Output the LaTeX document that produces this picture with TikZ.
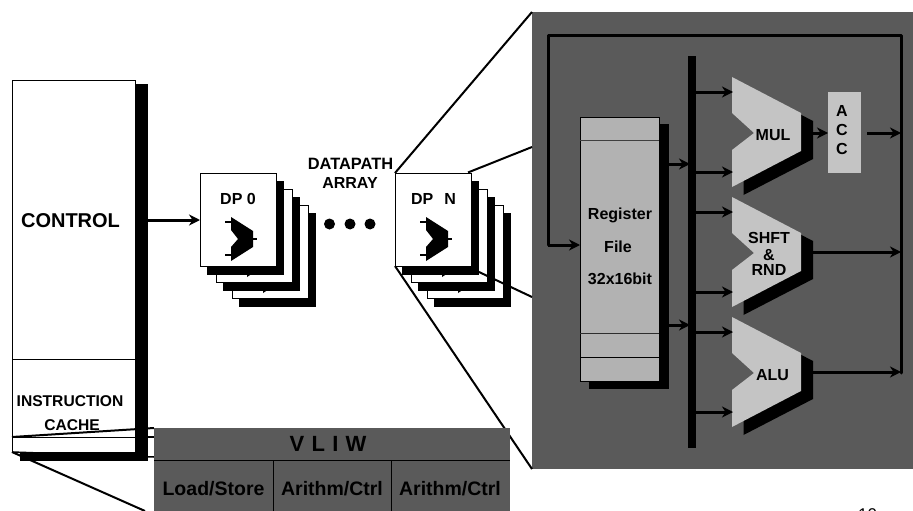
\documentclass[tikz,border=0pt]{standalone}
\usepackage{fontspec}
\setmainfont{Liberation Sans}
\usetikzlibrary{arrows.meta}
\definecolor{panelgray}{HTML}{5A5A5A}
\definecolor{muxgray}{HTML}{C4C4C4}
\definecolor{reggray}{HTML}{B2B2B2}
\newcommand{\rectnode}[6]{%
  \pgfmathsetmacro\rcx{(#2+#4)/2}\pgfmathsetmacro\rcy{(#3+#5)/2}%
  \pgfmathsetmacro\rw{#4-#2}\pgfmathsetmacro\rh{#5-#3}%
  \node[#6,minimum width=\rw pt,minimum height=\rh pt] (#1) at (\rcx,\rcy) {};}
\tikzset{
  x=1pt,y=-1pt,
  box/.style={rectangle,inner sep=0pt,outer sep=0pt},
  whitebox/.style={box,draw=black,line width=0.8pt,fill=white},
  shadowbox/.style={box,fill=black},
  lbl/.style={inner sep=0pt,outer sep=0pt,font=\bfseries\fontsize{16}{16}\selectfont,text=black},
  biglbl/.style={lbl,font=\bfseries\fontsize{19.5}{19.5}\selectfont},
  zoomline/.style={line width=2pt,draw=black},
  wire/.style={line width=3pt,draw=black},
  arrowwire/.style={wire,-{Stealth[length=11pt,width=11pt,inset=3.5pt]}},
  dot/.style={circle,fill=black,inner sep=0pt,minimum size=11pt},
  cardmux/.pic={
    \fill[black] (31,44) -- (53,58) -- (53,74) -- (31,88) -- (31,74) -- (38,66) -- (31,57) -- cycle;
    \draw[black,line width=1.4pt] (25,49) -- (31,49) (25,82) -- (31,82) (53,66) -- (57,66);
  },
  fumux/.pic={
    \fill[black] (11.5,8) -- (81,44) -- (81,82) -- (11.5,118) -- (11.5,81) -- (33.5,64) -- (11.5,44) -- cycle;
    \fill[muxgray] (0,0) -- (69,36) -- (69,74) -- (0,110) -- (0,73) -- (22,56) -- (0,36) -- cycle;
  },
}
\newcommand{\dpstack}[2]{% name, left x
  \foreach \off in {32,16,0} {
    \pgfmathsetmacro\xa{#2+\off}\pgfmathsetmacro\ya{173+\off}
    \pgfmathsetmacro\xb{\xa+76.5}\pgfmathsetmacro\yb{\ya+93}
    \pgfmathsetmacro\sa{\xa+6.5}\pgfmathsetmacro\sb{\ya+8}
    \pgfmathsetmacro\sc{\xb+7}\pgfmathsetmacro\sd{\yb+9}
    \rectnode{#1s\off}{\sa}{\sb}{\sc}{\sd}{shadowbox}
    \rectnode{#1c\off}{\xa}{\ya}{\xb}{\yb}{whitebox}
    \pic at (\xa,\ya) {cardmux};
  }
}
\begin{document}
\begin{tikzpicture}
\useasboundingbox (0,0) rectangle (913,511);
\clip (0,0) rectangle (913,511);

% control column
\rectnode{ctrlshadow}{20}{84}{147.5}{461}{shadowbox}
\rectnode{ctrl}{12}{80}{135}{452}{whitebox}
\coordinate (icacheL) at (12,359);
\coordinate (icacheR) at (135,359);
\draw[black,line width=0.8pt] (icacheL) -- (icacheR);
\node[lbl,font=\bfseries\fontsize{20}{20}\selectfont] (controllbl) at (70.5,221) {CONTROL};
\node[lbl,font=\bfseries\fontsize{15.6}{15.6}\selectfont] (instrlbl) at (70,401) {INSTRUCTION};
\node[lbl,font=\bfseries\fontsize{15.6}{15.6}\selectfont] (cachelbl) at (72,425) {CACHE};

% data path stacks
\dpstack{dpa}{200}
\dpstack{dpb}{395}
\node[lbl] (dp0lbl) at (238,199) {DP 0};
\node[lbl] (dpnlbl) at (433.5,199) {DP\hspace{11pt}N};
\node[lbl,font=\bfseries\fontsize{16.4}{16.4}\selectfont] (dalbl) at (350.5,164) {DATAPATH};
\node[lbl] (arlbl) at (350,183) {ARRAY};
\node[dot] (d1) at (329.5,224) {};
\node[dot] (d2) at (350,224) {};
\node[dot] (d3) at (370,224) {};
\draw[arrowwire] (ctrl.east |- 0,220) -- (dpac0.west |- 0,220);

% panel
\rectnode{panel}{532}{12}{913}{469}{box,fill=panelgray}
% zoom lines
\draw[zoomline] (dpbc0.north west) -- (panel.north west);
\draw[zoomline] (dpbc0.south west) -- (panel.south west);
\coordinate (zt) at (468,172.5);
\coordinate (zb) at (479,272);
\coordinate (pt) at (532,147);
\coordinate (pb) at (532,297);
\draw[zoomline] (zt) -- (pt);
\draw[zoomline] (zb) -- (pb);
% instruction cache to VLIW
\coordinate (vtl) at (154,428);
\coordinate (l1) at (12,437);
\coordinate (l2) at (12,452);
\coordinate (r2) at (154,457);
\coordinate (r3) at (145,511);
\coordinate (r1) at (154,437);
\draw[black,line width=0.8pt] (l1) -- (ctrl.east |- l1);
\draw[zoomline] (l1) -- (vtl);
\draw[zoomline] (ctrl.east |- l1) -- (r1);
\draw[black,line width=1.5pt] (l2) -- (r2);
\draw[zoomline] (l2) -- (r3);
\rectnode{vliw}{154}{428}{510}{511}{box,fill=panelgray}
\coordinate (vrowL) at (154,460);
\coordinate (vrowR) at (510,460);
\draw[black,line width=0.9pt] (vrowL) -- (vrowR);
\coordinate (vc1) at (273,460);
\coordinate (vc2) at (391,460);
\draw[black,line width=0.9pt] (vc1) -- (vc1 |- vliw.south) (vc2) -- (vc2 |- vliw.south);
\node[lbl,font=\bfseries\fontsize{22}{22}\selectfont] (vlbl) at (328,444) {V\hspace{1.2pt} L\hspace{1.2pt} I\hspace{1.2pt} W};
\node[biglbl] (ls) at (213.5,489) {Load/Store};
\node[biglbl] (ac1) at (332,489) {Arithm/Ctrl};
\node[biglbl] (ac2) at (450,489) {Arithm/Ctrl};

% register file
\rectnode{regshadow}{589}{124}{669}{389}{shadowbox}
\rectnode{reg}{580}{117}{659}{381}{box,draw=black,line width=0.8pt,fill=reggray}
\coordinate (ra) at (580,140); \coordinate (rb) at (580,333); \coordinate (rc) at (580,357);
\draw[panelgray!70!black,line width=0.9pt] (ra) -- (reg.east |- ra);
\draw[panelgray!50!black,line width=0.9pt] (rb) -- (reg.east |- rb);
\draw[black,line width=0.9pt] (rc) -- (reg.east |- rc);
\node[lbl] (reg1) at (620,215) {Register};
\node[lbl] (reg2) at (618,247) {File};
\node[lbl] (reg3) at (620,279) {32x16bit};

% bus
\rectnode{bus}{688}{56}{696}{448}{shadowbox}
\draw[arrowwire] (regshadow.east |- 0,164) -- (690,164);
\draw[arrowwire] (regshadow.east |- 0,325) -- (690,325);

% functional units
\pic at (732,77) {fumux};
\pic at (732,197) {fumux};
\pic at (732,317) {fumux};
\foreach \yy in {92,172,212,292,332,412} {
  \draw[arrowwire] (bus.east |- 0,\yy) -- (733,\yy);
}
\node[lbl] (mul) at (773,135) {MUL};
\node[lbl] (shft) at (769,238) {SHFT};
\node[lbl] (amp) at (769,255) {\&};
\node[lbl] (rnd) at (769,270) {RND};
\node[lbl] (alu) at (772.5,375) {ALU};

% ACC
\rectnode{acc}{828}{92}{861}{173}{box,fill=muxgray}
\node[lbl] (a1) at (842,111) {A};
\node[lbl] (a2) at (842,130) {C};
\node[lbl] (a3) at (842,149) {C};
\coordinate (mulout) at (813,133);
\draw[arrowwire] (mulout) -- (acc.west |- mulout);

% feedback
\coordinate (fbTL) at (548,36);
\coordinate (fbTR) at (901,36);
\coordinate (fbBR) at (901,373);
\coordinate (fbIn) at (548,245);
\draw[wire,line join=round,line cap=round] (fbBR) -- (fbTR) -- (fbTL) -- (fbIn);
\draw[arrowwire] (fbIn) -- (reg.west |- fbIn);
\coordinate (accout) at (867,133);
\draw[arrowwire] (accout) -- (fbTR |- accout);
\coordinate (shout) at (813,252);
\draw[arrowwire] (shout) -- (fbTR |- shout);
\coordinate (aluout) at (813,372);
\draw[arrowwire] (aluout) -- (fbTR |- aluout);

% page number
\node[inner sep=0pt,font=\fontsize{17}{17}\selectfont] (pageno) at (867.5,514.5) {10};
\end{tikzpicture}
\end{document}
